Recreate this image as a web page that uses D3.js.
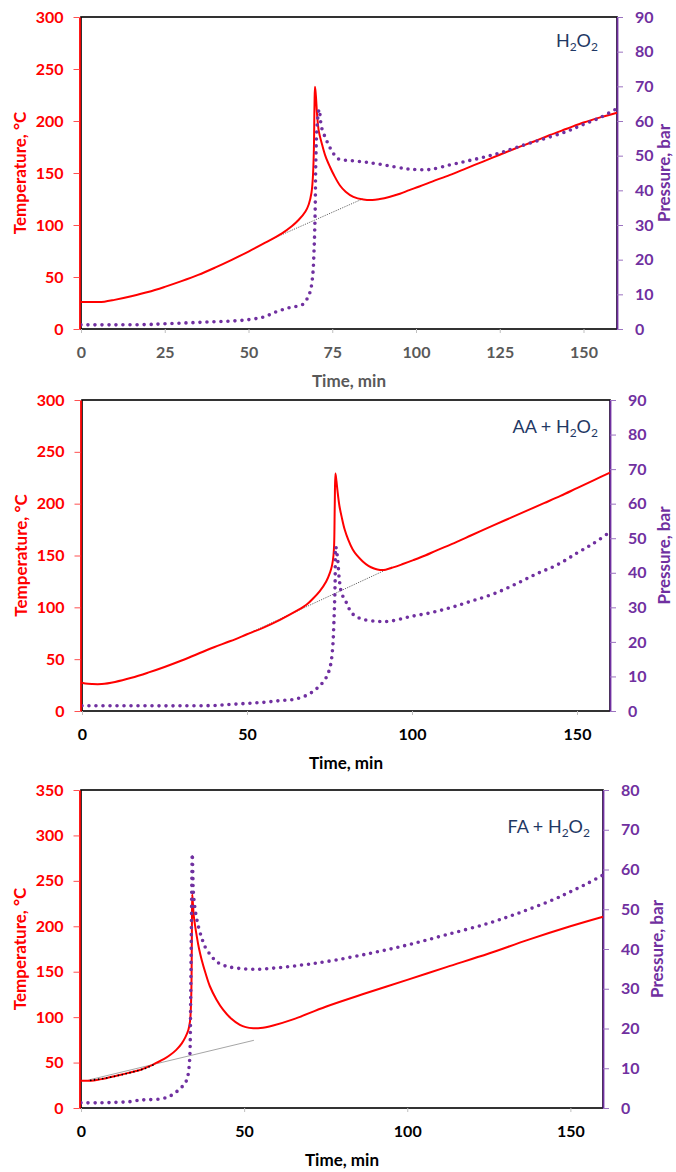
<!DOCTYPE html>
<html><head><meta charset="utf-8">
<script src="https://cdn.jsdelivr.net/npm/d3@7"></script>
<style>
html,body{margin:0;padding:0;background:#fff;}
svg{display:block;}
</style></head>
<body>
<svg id="chart" width="676" height="1172"></svg>
<script>
// ---------- DATA ----------
// Panel 1 : H2O2
const h2o2Time = [0,4,7,10,15,20,25,30,35,40,45,50,55,60,63,65,67,68,68.8,69.2,69.5,69.7,69.85,70.1,70.5,71,72,73,74.3,75.5,77.3,79,81.3,84.3,87,89.2,92,95.2,98,101,105,110,115,120,125,130,135,140,145,150,155,160];
const h2o2Temp = [26,26,26.3,28,31.5,35.5,40.5,46,52,59,66.5,74.5,83,92,99,105,113,120,131,145,170,215,233,225,205,190,177,166,156,148,138,132,127,124.5,124,125,127,130,133.5,137,142,148,154.5,161,167.5,174,180,186.5,192.5,198.5,203.5,208];
const h2o2PTime = [0,10,20,25,30,35,40,45,50,54.6,58.4,62.4,66.2,67.9,68.6,69.2,69.6,69.9,70.1,70.5,71.1,71.8,73.3,74.8,76.8,80.3,85.3,91.2,97.2,100,104,110,115,120,125,130,137,145,150,155,160];
const h2o2Pres = [1.2,1.2,1.3,1.5,1.7,1.9,2.1,2.3,2.7,3.5,5,6.2,7.1,9.5,11.5,15.8,23.5,34,48.6,59,63.3,58.2,54.4,51.5,49.1,48.6,48.1,47.2,46.2,46,46,47.3,48.4,49.5,50.8,52.4,54.5,57,59,61,63.6];
const h2o2BaseTime = [57,84];
const h2o2BaseTemp = [86.5,125];

// Panel 2 : AA + H2O2
const aaTime = [0,1,3,6,10,15,20,25,30,35,40,45,50,55,60,65,68,70,72,74,75.2,75.8,76.2,76.4,76.6,76.8,77.1,77.4,78,78.7,79.6,80.7,82,83.2,85,86.8,88.5,90.3,92,94.3,97,100.4,104,107.5,112,118,125,130,135,140,145,150,155,160];
const aaTemp = [27.3,26.5,26,26,28,32,37,42.5,48.5,55,61.5,67.5,74,80.5,88,96.5,102.5,108.5,115.5,125,134,141,150,160,200,229,222,213,198,187,175,165,156,150.5,144.5,140,137.5,136,136.3,138.5,141.5,145.5,150,155,161,169.5,179.5,186.5,193.5,200.5,207.5,215,222.5,230];
const aaPTime = [0,10,20,30,40,45,50,55,60,64.5,68.6,71.6,73.9,75.2,75.9,76.4,76.7,76.9,77.2,77.5,78,78.7,80.2,81.7,84.2,88.8,93.3,99.4,106,112,118,125,132,138,144,150,155,160];
const aaPres = [1.5,1.5,1.5,1.5,1.6,1.9,2.2,2.5,3,3.4,4.8,6.9,9.5,12.8,17.6,27.3,37,47.5,46,43.7,37.8,34,31.2,28.4,26.8,26,26,27.3,28.5,30,31.8,34,37,39.8,42.3,45.7,48.5,51.8];
const aaBaseTime = [50,94];
const aaBaseTemp = [74,139];

// Panel 3 : FA + H2O2
const faTime = [0,3,5.8,8,11.9,15,18.1,21,23.2,25.5,27.3,29.2,30.9,32,32.9,33.4,33.6,33.8,33.9,34,34.1,34.3,34.6,35.5,36.2,37,38.2,39.5,41.5,43.6,46,48.7,50.5,52.8,55,58.9,65,75,87,100,112,125,137,150,160];
const faTemp = [30,30,31.5,33,36.3,39,41.8,46,49.9,54,58.3,64,71.2,78,85.8,95,104,125,148,200,235,225,210.6,188.6,175,163,148,134,119.5,108,98.5,91.5,89,87.8,88,90.8,97.5,111.5,126,141,155,170,185,200,210.5];
const faPTime = [0,5,10,15,18.1,21,25.2,27.5,29.3,30.8,31.9,32.5,32.9,33.2,33.4,33.6,33.8,34,34.1,34.3,34.4,35,36,37,38,39.8,41.6,44,46.7,53.3,60.5,68,75,88,100,112,125,135,145,150,155,160];
const faPres = [1.3,1.3,1.4,1.6,2,2.1,2.4,3.1,4.1,5.2,6.2,7.3,8.7,11,13.8,25.5,42.3,59,63.9,58,54.8,49.8,45.6,42.8,40.6,38.4,36.8,35.8,35.3,34.9,35.3,36,36.8,38.8,41,43.6,46.5,49.3,52.5,54.4,56.4,58.6];
const faBaseTime = [2.3,53];
const faBaseTemp = [30.8,74.5];
const faFitTime = [3,8,12,16,20,22.7];
const faFitTemp = [30.5,33.2,36.3,39.8,44,48.4];

// Tick labels
const xTicks1 = [0,25,50,75,100,125,150];
const xTicks23 = [0,50,100,150];
const tTicks300 = [0,50,100,150,200,250,300];
const tTicks350 = [0,50,100,150,200,250,300,350];
const pTicks90 = [0,10,20,30,40,50,60,70,80,90];
const pTicks80 = [0,10,20,30,40,50,60,70,80];

// ---------- DRAW ----------
const FONT = "Lato, 'Open Sans', sans-serif";
const RED = "#ff0000", PURPLE = "#7030a0", NAVY = "#1f3864";
const svg = d3.select("#chart");

function drawPanel(c) {
  const g = svg.append("g");
  const x = d3.scaleLinear().domain([0,160]).range([c.left, c.right]);
  const yT = d3.scaleLinear().domain([0,c.tMax]).range([c.bottom, c.top]);
  const yP = d3.scaleLinear().domain([0,c.pMax]).range([c.bottom, c.top]);

  g.append("rect").attr("x", c.left).attr("y", c.top)
    .attr("width", c.right - c.left).attr("height", c.bottom - c.top)
    .attr("fill", "none").attr("stroke", "#000").attr("stroke-width", 1.6);

  const la = g.append("g").attr("transform", `translate(${c.left-1.5},0)`)
    .call(d3.axisLeft(yT).tickValues(c.tTicks).tickSize(6).tickSizeOuter(0).tickPadding(10));
  la.select(".domain").attr("stroke", RED).attr("stroke-width", 1.8);
  la.selectAll(".tick line").attr("stroke", "#ff5050").attr("stroke-width", 1);
  la.selectAll(".tick text").attr("fill", RED).style("font", `700 16px ${FONT}`);

  const ra = g.append("g").attr("transform", `translate(${c.right},0)`)
    .call(d3.axisRight(yP).tickValues(c.pTicks).tickSize(6).tickSizeOuter(0).tickPadding(12));
  ra.select(".domain").attr("stroke", PURPLE).attr("stroke-width", 1.8);
  ra.selectAll(".tick line").attr("stroke", "#9b72c0").attr("stroke-width", 1);
  ra.selectAll(".tick text").attr("fill", PURPLE).style("font", `700 16px ${FONT}`);

  const ba = g.append("g").attr("transform", `translate(0,${c.bottom})`)
    .call(d3.axisBottom(x).tickValues(c.xTicks).tickSize(4).tickSizeOuter(0).tickPadding(14));
  ba.select(".domain").remove();
  ba.selectAll(".tick line").attr("stroke", "#bfbfbf").attr("stroke-width", 1);
  ba.selectAll(".tick text").attr("fill", c.xColor).style("font", `700 16px ${FONT}`);

  g.append("text").attr("x", (c.left + c.right)/2).attr("y", c.bottom + 58)
    .attr("text-anchor", "middle").attr("fill", c.xColor)
    .style("font", `700 17px ${FONT}`).text("Time, min");
  g.append("text").attr("transform", `translate(${c.left-61},${(c.top+c.bottom)/2}) rotate(-90)`)
    .attr("text-anchor", "middle").attr("dy", "0.36em").attr("fill", RED)
    .style("font", `700 17px ${FONT}`).text("Temperature, °C");
  g.append("text").attr("transform", `translate(${Math.min(c.right+54, 664)},${(c.top+c.bottom)/2}) rotate(-90)`)
    .attr("text-anchor", "middle").attr("dy", "0.36em").attr("fill", PURPLE)
    .style("font", `700 17px ${FONT}`).text("Pressure, bar");

  const lab = g.append("text").attr("x", c.labelX).attr("y", c.labelY)
    .attr("text-anchor", "end").attr("fill", NAVY).style("font", `400 18px ${FONT}`);
  lab.append("tspan").text(c.labelPrefix + "H");
  lab.append("tspan").attr("dy", 4).style("font-size", "12px").text("2");
  lab.append("tspan").attr("dy", -4).text("O");
  lab.append("tspan").attr("dy", 4).style("font-size", "12px").text("2");

  const clip = "clip" + c.id;
  g.append("clipPath").attr("id", clip).append("rect")
    .attr("x", c.left).attr("y", c.top - 5).attr("width", c.right - c.left + 6).attr("height", c.bottom - c.top + 5);
  const plot = g.append("g").attr("clip-path", `url(#${clip})`);

  const baseLine = d3.line().x(d => x(d[0])).y(d => yT(d[1]));
  plot.append("path").datum(d3.zip(c.baseTime, c.baseTemp))
    .attr("d", baseLine).attr("fill", "none")
    .attr("stroke", c.baseSolid ? "#a6a6a6" : "#555")
    .attr("stroke-width", c.baseSolid ? 1 : 0.9)
    .attr("stroke-dasharray", c.baseSolid ? null : "1.2 1.2");

  const curve = d3.curveCatmullRom.alpha(0.5);
  const tLine = d3.line().x(d => x(d[0])).y(d => yT(d[1])).curve(curve);
  plot.append("path").datum(d3.zip(c.time, c.temp)).attr("d", tLine)
    .attr("fill", "none").attr("stroke", RED).attr("stroke-width", 2).attr("stroke-linejoin", "round");

  if (c.fitTime) {
    plot.append("path").datum(d3.zip(c.fitTime, c.fitTemp)).attr("d", tLine)
      .attr("fill", "none").attr("stroke", "#000").attr("stroke-width", 1.8)
      .attr("stroke-linecap", "round").attr("stroke-dasharray", "0 4");
  }

  const pLine = d3.line().x(d => x(d[0])).y(d => yP(d[1])).curve(curve);
  plot.append("path").datum(d3.zip(c.pTime, c.pres)).attr("d", pLine)
    .attr("fill", "none").attr("stroke", PURPLE).attr("stroke-width", 3.6)
    .attr("stroke-linecap", "round").attr("stroke-dasharray", "0 7");
}

drawPanel({id:1, left:81, right:617, top:17, bottom:329, tMax:300, pMax:90,
  tTicks:tTicks300, pTicks:pTicks90, xTicks:xTicks1, xColor:"#595959",
  labelPrefix:"", labelX:598, labelY:47,
  time:h2o2Time, temp:h2o2Temp, pTime:h2o2PTime, pres:h2o2Pres,
  baseTime:h2o2BaseTime, baseTemp:h2o2BaseTemp});

drawPanel({id:2, left:82, right:610, top:400, bottom:711, tMax:300, pMax:90,
  tTicks:tTicks300, pTicks:pTicks90, xTicks:xTicks23, xColor:"#000",
  labelPrefix:"AA + ", labelX:598, labelY:433,
  time:aaTime, temp:aaTemp, pTime:aaPTime, pres:aaPres,
  baseTime:aaBaseTime, baseTemp:aaBaseTemp});

drawPanel({id:3, left:81, right:603, top:790, bottom:1108, tMax:350, pMax:80,
  tTicks:tTicks350, pTicks:pTicks80, xTicks:xTicks23, xColor:"#000",
  labelPrefix:"FA + ", labelX:590, labelY:833,
  time:faTime, temp:faTemp, pTime:faPTime, pres:faPres,
  baseTime:faBaseTime, baseTemp:faBaseTemp, baseSolid:true,
  fitTime:faFitTime, fitTemp:faFitTemp});
</script>
</body></html>
